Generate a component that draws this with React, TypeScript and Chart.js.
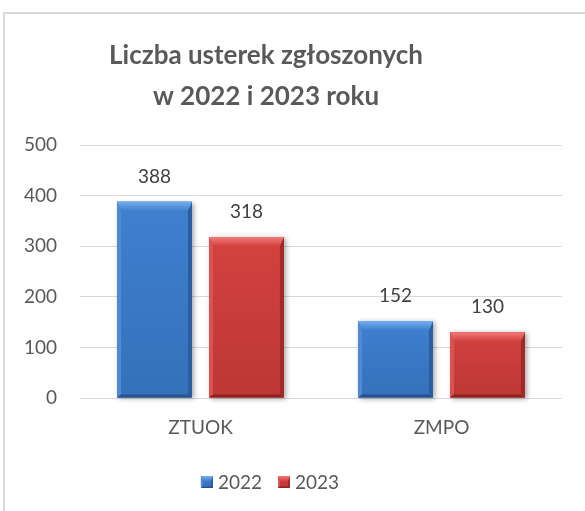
import React, { useEffect, useRef } from 'react';
import { Chart, registerables } from 'chart.js';

Chart.register(...registerables);

const categories = ['ZTUOK', 'ZMPO'];
const series2022 = [388, 152];
const series2023 = [318, 130];
const seriesLabels = ['2022', '2023'];
const titleLines = ['Liczba usterek zgłoszonych', 'w 2022 i 2023 roku'];
const yMin = 0;
const yMax = 500;
const yStep = 100;

const FONT = 'Lato, "Open Sans", sans-serif';
const TEXT = '#595959';

const palettes = [
  { main: '#3f80cf', mainDark: '#3570bb', top: '#74aeee', left: '#5089d4', right: '#2b5e9e', bottom: '#27518a' },
  { main: '#d3423f', mainDark: '#bd3735', top: '#f07a78', left: '#d95451', right: '#9f2a29', bottom: '#8a2423' },
];

function drawBevel(ctx: CanvasRenderingContext2D, l: number, t: number, r: number, b: number, pal: any, bt: number, bs: number, bb: number) {
  const h = b - t;
  const tt = Math.min(bt, h / 2);
  const bbb = Math.min(bb, h / 4);
  const g = ctx.createLinearGradient(0, t, 0, b);
  g.addColorStop(0, pal.main);
  g.addColorStop(1, pal.mainDark);
  ctx.fillStyle = g;
  ctx.fillRect(l, t, r - l, h);
  const poly = (pts: number[][], fill: any) => {
    ctx.beginPath();
    ctx.moveTo(pts[0][0], pts[0][1]);
    for (let i = 1; i < pts.length; i++) ctx.lineTo(pts[i][0], pts[i][1]);
    ctx.closePath();
    ctx.fillStyle = fill;
    ctx.fill();
  };
  poly([[l, t], [l + bs, t + tt], [l + bs, b - bbb], [l, b]], pal.left);
  poly([[r, t], [r, b], [r - bs, b - bbb], [r - bs, t + tt]], pal.right);
  poly([[l, b], [r, b], [r - bs, b - bbb], [l + bs, b - bbb]], pal.bottom);
  const tg = ctx.createLinearGradient(0, t, 0, t + tt);
  tg.addColorStop(0, pal.top);
  tg.addColorStop(1, pal.main);
  poly([[l, t], [r, t], [r - bs, t + tt], [l + bs, t + tt]], tg);
}

const bevelPlugin = {
  id: 'bevelBars',
  beforeDatasetsDraw(chart: any) {
    const ctx = chart.ctx;
    chart.data.datasets.forEach((ds: any, di: number) => {
      const meta = chart.getDatasetMeta(di);
      meta.data.forEach((el: any) => {
        const p = el.getProps(['x', 'y', 'base', 'width'], true);
        ctx.save();
        ctx.shadowColor = 'rgba(0,0,0,0.35)';
        ctx.shadowBlur = 5;
        ctx.shadowOffsetX = 2;
        ctx.shadowOffsetY = 1;
        ctx.fillStyle = '#ffffff';
        ctx.fillRect(p.x - p.width / 2, p.y, p.width, p.base - p.y);
        ctx.restore();
      });
    });
  },
  afterDatasetsDraw(chart: any) {
    const ctx = chart.ctx;
    chart.data.datasets.forEach((ds: any, di: number) => {
      const meta = chart.getDatasetMeta(di);
      const pal = palettes[di];
      meta.data.forEach((el: any, i: number) => {
        const p = el.getProps(['x', 'y', 'base', 'width'], true);
        ctx.save();
        drawBevel(ctx, p.x - p.width / 2, p.y, p.x + p.width / 2, p.base, pal, 9, 4, 3);
        ctx.fillStyle = '#404040';
        ctx.font = `19px ${FONT}`;
        ctx.textAlign = 'center';
        ctx.textBaseline = 'middle';
        ctx.fillText(String(ds.data[i]), p.x, p.y - 25);
        ctx.restore();
      });
    });
  },
};

const titleLegendPlugin = {
  id: 'titleLegend',
  afterDraw(chart: any) {
    const ctx = chart.ctx;
    ctx.save();
    ctx.fillStyle = TEXT;
    ctx.textAlign = 'center';
    ctx.textBaseline = 'middle';
    ctx.font = `bold 26px ${FONT}`;
    titleLines.forEach((line, i) => ctx.fillText(line, 266, 56 + i * 41));

    ctx.font = `19px ${FONT}`;
    const box = 12;
    const gapBoxText = 5;
    const gapItems = 16;
    const labels = chart.data.datasets.map((d: any) => d.label);
    const widths = labels.map((t: string) => box + gapBoxText + ctx.measureText(t).width);
    const total = widths.reduce((a: number, b: number) => a + b, 0) + gapItems * (labels.length - 1);
    let x = 270 - total / 2;
    const cy = 482;
    labels.forEach((t: string, i: number) => {
      drawBevel(ctx, x, cy - box / 2, x + box, cy + box / 2, palettes[i], 5, 2, 1.5);
      ctx.fillStyle = TEXT;
      ctx.textAlign = 'left';
      ctx.fillText(t, x + box + gapBoxText, cy + 1);
      x += widths[i] + gapItems;
    });
    ctx.restore();
  },
};

export default function App() {
  const ref = useRef<HTMLCanvasElement>(null);
  useEffect(() => {
    if (!ref.current) return;
    const chart = new Chart(ref.current, {
      type: 'bar',
      data: {
        labels: categories,
        datasets: [
          { label: seriesLabels[0], data: series2022, backgroundColor: palettes[0].main, categoryPercentage: 0.763, barPercentage: 0.815 },
          { label: seriesLabels[1], data: series2023, backgroundColor: palettes[1].main, categoryPercentage: 0.763, barPercentage: 0.815 },
        ],
      },
      options: {
        responsive: false,
        animation: false,
        devicePixelRatio: 1,
        layout: { padding: { top: 145, right: 23, bottom: 49, left: 0 } },
        plugins: {
          legend: { display: false },
          title: { display: false },
          tooltip: { enabled: false },
        },
        scales: {
          x: {
            grid: { display: false, drawTicks: false },
            border: { display: false },
            ticks: { font: { family: FONT, size: 19 }, color: TEXT, padding: 18 },
            afterFit: (s: any) => { s.height = 64; },
          },
          y: {
            min: yMin,
            max: yMax,
            ticks: { stepSize: yStep, font: { family: FONT, size: 19 }, color: TEXT, padding: 23 },
            grid: { color: '#d9d9d9', lineWidth: 1, drawTicks: false },
            border: { display: false },
            afterFit: (s: any) => { s.width = 80; },
          },
        },
      },
      plugins: [bevelPlugin, titleLegendPlugin],
    });
    return () => chart.destroy();
  }, []);

  return (
    <div style={{ position: 'fixed', left: 0, top: 0, width: 585, height: 511, background: '#ffffff' }}>
      <div style={{ position: 'absolute', left: 3, top: 12, width: 582, height: 499, borderLeft: '2px solid #d9d9d9', borderTop: '2px solid #d9d9d9', boxSizing: 'border-box' }} />
      <canvas ref={ref} width={585} height={511} style={{ position: 'absolute', left: 0, top: 0, display: 'block' }} />
    </div>
  );
}
